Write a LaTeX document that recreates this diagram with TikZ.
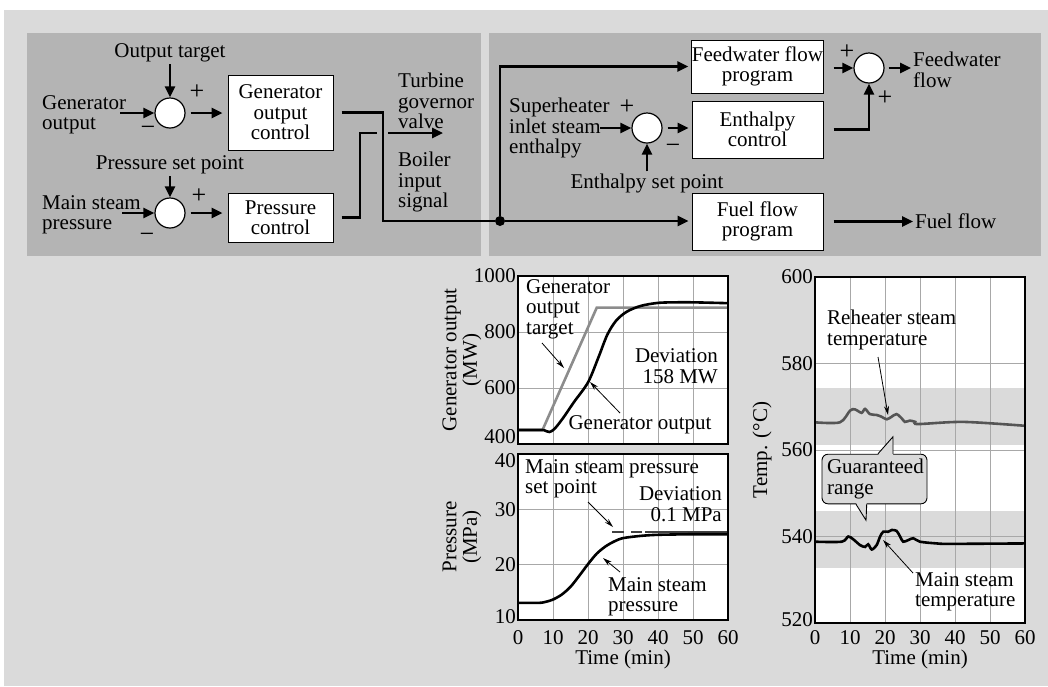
\documentclass[tikz,border=0pt]{standalone}
\usepackage{fontspec}
\setmainfont{Liberation Serif}
\usetikzlibrary{arrows.meta}

\definecolor{bggray}{HTML}{DADADA}
\definecolor{dkgray}{HTML}{B4B4B4}
\definecolor{gridgray}{HTML}{A8A8A8}
\definecolor{tgtgray}{HTML}{8C8C8C}
\definecolor{rhgray}{HTML}{555555}

\tikzset{
  blk/.style={draw=black, fill=white, line width=1pt, align=center, inner sep=0pt},
  sum/.style={circle, draw=black, fill=white, line width=1.2pt, minimum size=30pt, inner sep=0pt},
  wire/.style={line width=2.6pt},
  arr/.style={wire, -{Triangle[length=11pt,width=10pt]}},
  thinarr/.style={line width=0.8pt, -{Stealth[length=9pt,width=5pt]}},
  sgn/.style={font=\fontsize{26}{26}\selectfont, inner sep=0pt},
  grd/.style={draw=gridgray, line width=0.9pt},
  frm/.style={draw=black, line width=1.3pt},
  tick/.style={inner sep=1pt},
  callout/.style={draw=black, fill=bggray, line width=0.9pt, rounded corners=6pt,
    minimum width=105pt, minimum height=48pt, text width=95pt, align=left, inner sep=5pt},
}

\begin{document}
\begin{tikzpicture}[x=1pt, y=-1pt,
    every node/.style={font=\fontsize{21}{20.5}\selectfont, inner sep=2pt}]
  \useasboundingbox (0,0) rectangle (1048,686);
  \fill[bggray] (4,10) rectangle (1048,686);
  \fill[dkgray] (27,33) rectangle (481,256);
  \fill[dkgray] (489,33) rectangle (1041,256);

  % left block
  \node (OT)  at (170,53) {Output target};
  \node[align=left, anchor=west] (GO) at (40,115) {Generator\\output};
  \node[sum] (S1) at (170,113) {};
  \node[blk, minimum width=105pt, minimum height=75pt] (GOC) at (280.5,112.5) {Generator\\output\\control};
  \node (PSP) at (170,165) {Pressure set point};
  \node[align=left, anchor=west] (MSP) at (40,215) {Main steam\\pressure};
  \node[sum] (S2) at (170,213) {};
  \node[blk, minimum width=105pt, minimum height=49pt] (PC) at (280.5,217.5) {Pressure\\control};
  \node[align=left, anchor=west] (TGV) at (396,101) {Turbine\\governor\\valve};
  \node[align=left, anchor=west] (BIS) at (396,182) {Boiler\\input\\signal};
  \node[sgn] (p1) at (197,92) {+};
  \node[sgn] (m1) at (148,131) {−};
  \node[sgn] (p2) at (199,196) {+};
  \node[sgn] (m2) at (147,238) {−};

  \coordinate (GOin)  at (120,113);
  \coordinate (MSPin) at (122,213);
  \coordinate (B1) at (383,221);
  \coordinate (T1) at (360,133);
  \coordinate (T2) at (377,133);
  \coordinate (T3) at (388,133);
  \coordinate (TGVin) at (443,133);

  \draw[arr] (OT) -- (S1);
  \draw[arr] (GOin) -- (S1);
  \draw[arr, shorten <=5pt, shorten >=5pt] (S1) -- (S1 -| GOC.west);
  \draw[arr] (PSP) -- (S2);
  \draw[arr] (MSPin) -- (S2);
  \draw[arr, shorten <=5pt, shorten >=5pt] (S2) -- (S2 -| PC.west);
  \draw[wire, shorten <=8pt] (PC.east) -| (T1) -- (T2);
  \draw[arr] (T3) -- (TGVin);

  % right block
  \node[circle, fill=black, inner sep=0pt, minimum size=10pt] (J) at (500,221) {};
  \node[blk, minimum width=131pt, minimum height=53pt] (FWP) at (757.5,66.5) {Feedwater flow\\program};
  \node[blk, minimum width=131pt, minimum height=57pt] (ECT) at (757.5,129.5) {Enthalpy\\control};
  \node[blk, minimum width=131pt, minimum height=57pt] (FFP) at (757.5,221.5) {Fuel flow\\program};
  \node[sum] (S3) at (647,128) {};
  \node[sum] (S4) at (869,68) {};
  \node[align=left, anchor=west] (SIE) at (507,128) {Superheater\\inlet steam\\enthalpy};
  \node (ESP) at (647,183) {Enthalpy set point};
  \node[align=left, anchor=west] (FWF) at (911,70) {Feedwater\\flow};
  \node[anchor=west] (FF) at (913,221) {Fuel flow};
  \node[sgn] (p3) at (627,107) {+};
  \node[sgn] (m3) at (673,149) {−};
  \node[sgn] (p4) at (847,52) {+};
  \node[sgn] (p5) at (885,98) {+};
  \coordinate (SIEin) at (600,128);

  \draw[wire, shorten <=8pt] (GOC.east) -| (B1) -- (J);
  \draw[arr, shorten >=3pt] (J) |- (FWP.west);
  \draw[arr, shorten >=3pt] (J) -- (J -| FFP.west);
  \draw[arr] (SIEin) -- (S3);
  \draw[arr, shorten <=5pt, shorten >=3pt] (S3) -- (S3 -| ECT.west);
  \draw[arr] (ESP) -- (S3);
  \draw[arr, shorten <=10pt] (FWP.east |- S4) -- (S4);
  \draw[arr, shorten <=10pt] (ECT.east) -| (S4);
  \draw[arr, shorten <=4pt] (S4) -- (S4 -| FWF.west);
  \draw[arr, shorten <=10pt] (FFP.east) -- (FFP.east -| FF.west);

  % generator output chart
  \begin{scope}[shift={(518pt,-444pt)}, x=3.5pt, y=0.28pt, yshift=-112pt]
    \fill[white] (0,400) rectangle (60,1000);
    \foreach \t in {10,20,...,50} \draw[grd] (\t,400) -- (\t,1000);
    \foreach \v in {600,800} \draw[grd] (0,\v) -- (60,\v);
    \foreach \v in {600,800,1000} \node[anchor=east] at (0,\v) {\v};
    \node[anchor=east, tick, yshift=7pt, xshift=-1pt] at (0,400) {400};
    \draw[tgtgray, line width=2.6pt] (0,450) -- (7,450) -- (22.5,887) -- (60,887);
    \draw[line width=2.6pt] plot[smooth] coordinates {(0,450) (6.5,450) (7.5,449) (9,443)
      (10.5,455) (13,495) (16,550) (20,620) (23,710) (25.5,790) (28,840) (31,872)
      (35,893) (40,904) (45,906) (50,906) (60,903)};
    \draw[frm] (0,400) rectangle (60,1000);
  \end{scope}

  % pressure chart
  \begin{scope}[shift={(518pt,-620pt)}, x=3.5pt, y=5.533pt, yshift=-55.33pt]
    \fill[white] (0,10) rectangle (60,40);
    \foreach \t in {10,20,...,50} \draw[grd] (\t,10) -- (\t,40);
    \foreach \v in {20,30} \draw[grd] (0,\v) -- (60,\v);
    \foreach \v in {20,30} \node[anchor=east] at (0,\v) {\v};
    \node[anchor=east, tick, yshift=3pt, xshift=-1pt] at (0,10) {10};
    \node[anchor=east, tick, yshift=-7pt, xshift=-1pt] at (0,40) {40};
    \draw[black!75, line width=2.2pt, dash pattern=on 12pt off 7pt] (26.9,25.95) -- (35.4,25.95);
    \draw[black!75, line width=2.2pt] (36.3,25.95) -- (60,25.95);
    \draw[line width=2.6pt] plot[smooth] coordinates {(0,13.1) (6,13.1) (8,13.3) (10,13.7)
      (12.5,14.6) (15,16.0) (17.5,18.0) (20,20.1) (22.5,22.0) (25,23.3) (27.5,24.2)
      (30,24.8) (35,25.2) (40,25.4) (50,25.5) (60,25.5)};
    \draw[frm] (0,10) rectangle (60,40);
  \end{scope}

  % temperature chart
  \begin{scope}[shift={(815pt,-623pt)}, x=3.5pt, y=4.325pt, yshift=-2249pt]
    \fill[white] (0,520) rectangle (60,600);
    \fill[bggray] (0,561.2) rectangle (60,574.3);
    \fill[bggray] (0,532.7) rectangle (60,545.9);
    \foreach \t in {10,20,...,50} \draw[grd] (\t,520) -- (\t,600);
    \foreach \v in {540,560,580} \draw[grd] (0,\v) -- (60,\v);
    \foreach \v in {540,560,...,600} \node[anchor=east] at (0,\v) {\v};
    \node[anchor=east, tick, yshift=3pt, xshift=-1pt] at (0,520) {520};
    \draw[rhgray, line width=2.6pt] plot[smooth] coordinates {(0,566.4) (7.1,566.4) (10,569.1)
      (11.4,569.4) (13.3,568.6) (14.3,569.5) (15.7,568.3) (17.6,568.1) (19,567.7)
      (20.5,567.1) (21.9,567.7) (23.3,568.3) (24.8,567.3) (25.7,566.5) (27.1,566.8)
      (28.6,566.5) (29.5,566.0) (42.4,566.5) (60,565.6)};
    \draw[line width=2.6pt] plot[smooth] coordinates {(0,538.8) (7.6,538.8) (9.5,540.0)
      (11,539.3) (12.9,538.0) (14.3,537.6) (15.2,538.2) (16.2,537.0) (17.6,538.0)
      (18.6,540.0) (19.5,541.1) (20.9,541.1) (21.9,541.5) (23.3,541.3) (24.3,540.0)
      (25.2,538.8) (26.7,539.2) (28.1,539.6) (30,538.8) (34.8,538.4) (38.6,538.3) (60,538.4)};
    \draw[frm] (0,520) rectangle (60,600);
  \end{scope}

  % axes texts
  \foreach \t in {0,10,...,60} {
    \node[tick] at ({518+3.5*\t},638) {\t};
    \node[tick] at ({815+3.5*\t},638) {\t};
  }
  \node[tick] (TX1) at (623,659) {Time (min)};
  \node[tick] (TX2) at (920,659) {Time (min)};
  \node[rotate=90, align=center] (YL1) at (462,360) {Generator output\\(MW)};
  \node[rotate=90, align=center] (YL2) at (462,537) {Pressure\\(MPa)};
  \node[rotate=90] (YL3) at (762,450) {Temp. (°C)};

  % chart notes
  \node[align=left, anchor=west] (GOT) at (524,309) {Generator\\output\\target};
  \node[align=right, anchor=east] (DV1) at (720,366) {Deviation\\158 MW};
  \node (GOL) at (640,425) {Generator output};
  \coordinate (a1) at (542,343);
  \coordinate (a2) at (564,368);
  \coordinate (a3) at (620,413);
  \coordinate (a4) at (590,382);
  \draw[thinarr] (a1) -- (a2);
  \draw[thinarr] (a3) -- (a4);

  \node[align=left, anchor=west] (MSS) at (523,479) {Main steam pressure\\set point};
  \node[align=right, anchor=east] (DV2) at (724,504) {Deviation\\0.1 MPa};
  \node[align=left, anchor=west] (MSL) at (606,597) {Main steam\\pressure};
  \coordinate (b1) at (588,502);
  \coordinate (b2) at (613,527);
  \coordinate (b3) at (620,572);
  \coordinate (b4) at (603,558);
  \draw[thinarr] (b1) -- (b2);
  \draw[thinarr] (b3) -- (b4);

  \node[align=left, anchor=west] (RST) at (825,330) {Reheater steam\\temperature};
  \node[align=left, anchor=west] (MST) at (913,592) {Main steam\\temperature};
  \coordinate (c1) at (878,357);
  \coordinate (c2) at (888,415);
  \coordinate (c3) at (913,573);
  \coordinate (c4) at (883,540);
  \draw[thinarr] (c1) -- (c2);
  \draw[thinarr] (c3) -- (c4);

  \node[callout] (GR) at (874.5,479) {Guaranteed\\range};
  \fill[bggray] ([xshift=3.5pt,yshift=-1.5pt]GR.north) -- ([xshift=18.5pt,yshift=17pt]GR.north) -- ([xshift=18.5pt,yshift=-1.5pt]GR.north) -- cycle;
  \draw[line width=0.9pt] ([xshift=3.5pt]GR.north) -- ([xshift=18.5pt,yshift=17pt]GR.north) -- ([xshift=18.5pt]GR.north);
  \fill[bggray] ([xshift=-18.5pt,yshift=1.5pt]GR.south) -- ([xshift=-8.5pt,yshift=-16pt]GR.south) -- ([xshift=-7.8pt,yshift=1.5pt]GR.south) -- cycle;
  \draw[line width=0.9pt] ([xshift=-18.5pt]GR.south) -- ([xshift=-8.5pt,yshift=-16pt]GR.south) -- ([xshift=-7.8pt]GR.south);
\end{tikzpicture}
\end{document}
